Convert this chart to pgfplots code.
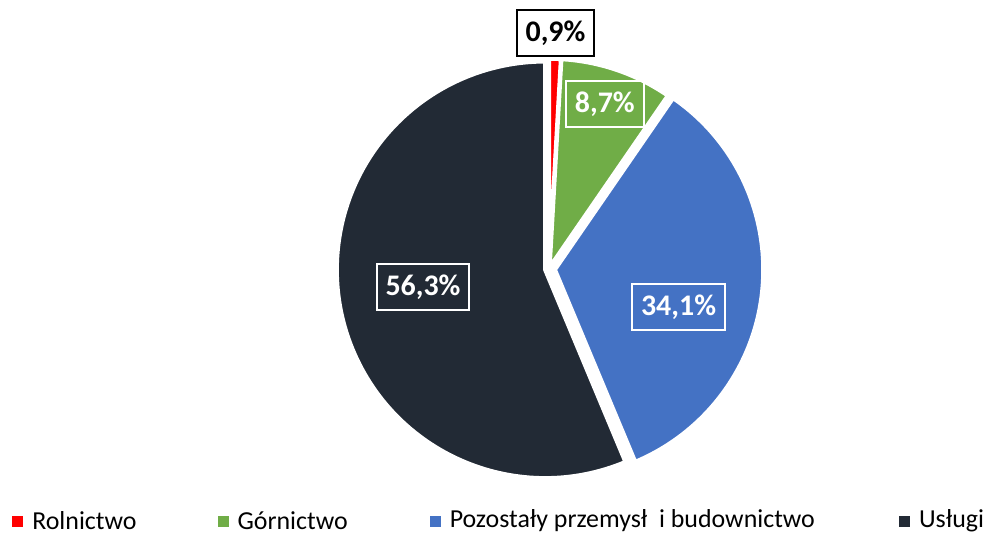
\documentclass[border=0pt]{standalone}
\usepackage{fontspec}
\setmainfont{Carlito}
\usepackage{pgfplots}
\pgfplotsset{compat=1.18}

\definecolor{cRol}{HTML}{FF0000}
\definecolor{cGor}{HTML}{70AD47}
\definecolor{cPoz}{HTML}{4472C4}
\definecolor{cUsl}{HTML}{222A35}

% pie centre and radius in pixel units of the axis (1 unit = 0.5pt)
\def\pcx{551}
\def\pcy{264}
\def\cum{0}
% #1 share in %, #2 explode (units), #3 colour
\newcommand\slice[3]{%
  \pgfmathsetmacro\sa{90-3.6*\cum}%
  \pgfmathsetmacro\ea{90-3.6*(\cum+#1)}%
  \pgfmathsetmacro\ma{(\sa+\ea)/2}%
  \pgfmathsetmacro\cx{\pcx+#2*cos(\ma)}%
  \pgfmathsetmacro\cy{\pcy+#2*sin(\ma)}%
  \edef\tmp{\noexpand\filldraw[fill=#3, draw=white, line width=2pt, line join=round]
    (axis cs:\cx,\cy) -- ++(\sa:104.5pt) arc[start angle=\sa, end angle=\ea, radius=104.5pt] -- cycle;}%
  \tmp
  \pgfmathsetmacro\newcum{\cum+#1}%
  \xdef\cum{\newcum}%
}
\newcommand\legitem[3]{%
  \fill[#3] (axis cs:#1-5.5,5.5) rectangle (axis cs:#1+5.5,16.5);
  \node[anchor=west, inner sep=0pt, font=\fontsize{13}{15}\selectfont] at (axis cs:#1+14,11.5) {#2};
}

\begin{document}
\begin{tikzpicture}
\begin{axis}[
  width=492pt, height=267pt, scale only axis,
  xmin=0, xmax=984, ymin=0, ymax=534,
  hide axis, clip=false,
]
\path (axis cs:0,0) rectangle (axis cs:984,534);

\slice{0.9}{2}{cRol}
\slice{8.7}{2}{cGor}
\slice{34.1}{6}{cPoz}
\slice{56.3}{4}{cUsl}

\tikzset{lab/.style={font=\fontsize{15}{18}\selectfont\bfseries, line width=1pt,
  inner xsep=4.5pt, minimum height=23pt}}
\node[lab, draw=black, fill=white, text=black] at (axis cs:557.5,500.5) {0,9\%};
\node[lab, draw=white, text=white] at (axis cs:607,429.5) {8,7\%};
\node[lab, draw=white, text=white] at (axis cs:681,226) {34,1\%};
\node[lab, draw=white, text=white] at (axis cs:424.5,246) {56,3\%};

\legitem{18}{Rolnictwo}{cRol}
\legitem{224}{Górnictwo}{cGor}
\legitem{437}{Pozostały przemysł\ \ i budownictwo}{cPoz}
\legitem{908}{Usługi}{cUsl}
\end{axis}
\end{tikzpicture}
\end{document}
